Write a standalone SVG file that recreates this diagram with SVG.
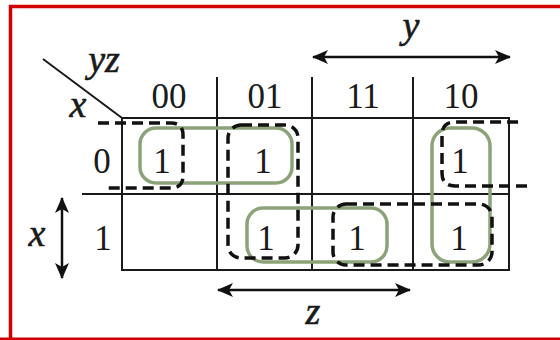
<svg xmlns="http://www.w3.org/2000/svg" width="560" height="340" viewBox="0 0 560 340">
<defs>
<style>
.grid{stroke:#1a1a1a;stroke-width:2;fill:none}
.dash{stroke:#111;stroke-width:3.5;fill:none;stroke-dasharray:11 6}
.grp{stroke:#8ca37a;stroke-width:3.5;fill:none}
.num{font-family:"Liberation Serif","Times New Roman",serif;font-size:35px;fill:#1a1a1a;text-anchor:middle}
.var{font-family:"Liberation Serif","Times New Roman",serif;font-size:38px;font-style:italic;fill:#1a1a1a;stroke:#1a1a1a;stroke-width:0.6;text-anchor:middle}
.arr{stroke:#111;stroke-width:2.5;fill:none;marker-start:url(#ah);marker-end:url(#ah)}
</style>
<marker id="ah" viewBox="0 0 16 14" refX="15" refY="7" markerWidth="16" markerHeight="14" markerUnits="userSpaceOnUse" orient="auto-start-reverse">
<path d="M0,0 L16,7 L0,14 L4,7 Z" fill="#111"/>
</marker>
</defs>
<rect x="0" y="0" width="560" height="340" fill="#fff"/>
<path d="M10.5,340 V6.5 H560" fill="none" stroke="#d00000" stroke-width="3.5"/>
<line x1="0" y1="339" x2="560" y2="339" stroke="#d00000" stroke-width="3"/>

<g id="grid">
<rect class="grid" x="122" y="118" width="387" height="152"/>
<line class="grid" x1="217" y1="77" x2="217" y2="270"/>
<line class="grid" x1="312" y1="77" x2="312" y2="270"/>
<line class="grid" x1="413" y1="77" x2="413" y2="270"/>
<line class="grid" x1="82" y1="194" x2="509" y2="194"/>
<line class="grid" x1="43" y1="59" x2="122" y2="118"/>
</g>

<g id="labels">
<text class="var" x="104" y="72">yz</text>
<text class="var" x="78" y="117">x</text>
<text class="num" x="169" y="108">00</text>
<text class="num" x="265" y="108">01</text>
<text class="num" x="363" y="108">11</text>
<text class="num" x="461" y="108">10</text>
<text class="num" x="102" y="173">0</text>
<text class="num" x="103" y="250">1</text>
<text class="var" x="411" y="38">y</text>
<text class="var" x="313" y="324">z</text>
<text class="var" x="37" y="246">x</text>
</g>

<g id="connectors">
<line class="arr" x1="313" y1="57" x2="510" y2="57"/>
<line class="arr" x1="218" y1="290" x2="410" y2="290"/>
<line class="arr" x1="62" y1="198" x2="62" y2="278"/>
</g>

<g id="cells">
<text class="num" x="162" y="173">1</text>
<text class="num" x="263" y="173">1</text>
<text class="num" x="460" y="173">1</text>
<text class="num" x="266" y="250">1</text>
<text class="num" x="357" y="250">1</text>
<text class="num" x="459" y="250">1</text>
</g>

<g id="green-groups">
<rect class="grp" x="140" y="128" width="152" height="55" rx="16"/>
<rect class="grp" x="247" y="208" width="140" height="54" rx="16"/>
<rect class="grp" x="432" y="128" width="58" height="134" rx="18"/>
</g>

<g id="dashed-groups">
<path class="dash" d="M98,123 H171 Q183,123 183,135 V176 Q183,188 171,188 H103"/>
<path class="dash" d="M527,186 H455 Q442,186 442,173 V135 Q442,122 455,122 H522"/>
<rect class="dash" x="228" y="125" width="70" height="133" rx="13"/>
<rect class="dash" x="333" y="204" width="159" height="61" rx="13"/>
</g>
</svg>
